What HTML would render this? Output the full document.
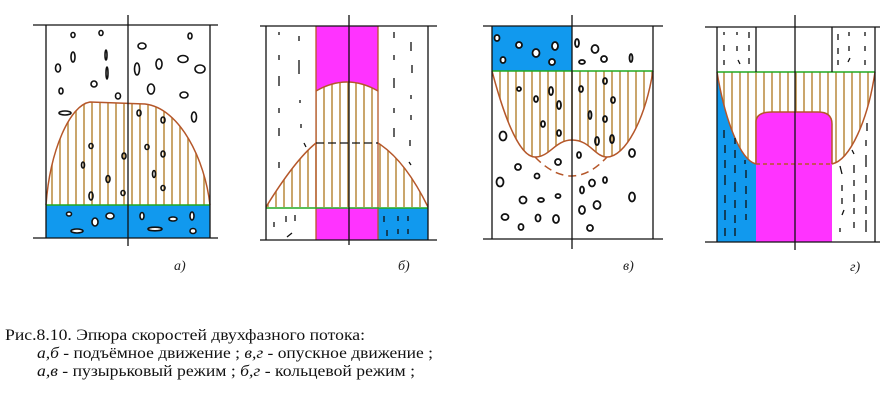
<!DOCTYPE html>
<html><head><meta charset="utf-8"><style>
html,body{margin:0;padding:0;background:#fff;}
svg{display:block;}
.cap{font-family:"Liberation Serif",serif;font-size:16px;fill:#111;}
.lab{font-family:"Liberation Serif",serif;font-size:14px;font-style:italic;fill:#222;}
</style></head><body>
<svg width="886" height="408" viewBox="0 0 886 408" xmlns="http://www.w3.org/2000/svg">
<defs>
<pattern id="h" width="8" height="10" patternUnits="userSpaceOnUse">
<line x1="4" y1="0" x2="4" y2="10" stroke="#b8893a" stroke-width="1.5"/>
</pattern>
</defs>
<g fill="none" stroke="#111" stroke-width="1.3">
<!-- Panel a -->
<rect x="46" y="205" width="164" height="33" fill="#1199ee" stroke="none"/>
<path d="M46,205 C50,150 70,105 90,102 L145,104 C180,108 205,160 210,205 Z" fill="url(#h)" stroke="none"/>
<path d="M46,205 C50,150 70,105 90,102 L145,104 C180,108 205,160 210,205" stroke="#b5572a" stroke-width="1.5"/>
<line x1="46" y1="205" x2="210" y2="205" stroke="#22aa22" stroke-width="1.5"/>
<line x1="33" y1="25" x2="218" y2="25"/><line x1="33" y1="238" x2="218" y2="238"/>
<line x1="46" y1="25" x2="46" y2="238"/><line x1="210" y1="25" x2="210" y2="238"/>
<line x1="128" y1="15" x2="128" y2="246"/>
<g stroke-width="1.6">
<ellipse cx="73" cy="35" rx="2" ry="2.5"/><ellipse cx="101" cy="33" rx="2" ry="2.5"/><ellipse cx="73" cy="57" rx="2" ry="5"/><ellipse cx="106" cy="55" rx="1" ry="5"/>
<ellipse cx="58" cy="68" rx="2.5" ry="4"/><ellipse cx="107" cy="73" rx="1" ry="6"/><ellipse cx="94" cy="84" rx="3" ry="3"/><ellipse cx="61" cy="91" rx="2" ry="3"/>
<ellipse cx="118" cy="96" rx="2.5" ry="3"/><ellipse cx="65" cy="113" rx="6" ry="2"/><ellipse cx="190" cy="36" rx="2" ry="3"/><ellipse cx="142" cy="46" rx="4" ry="3"/>
<ellipse cx="183" cy="59" rx="5" ry="3.5"/><ellipse cx="200" cy="69" rx="5" ry="4"/><ellipse cx="159" cy="64" rx="3" ry="5"/><ellipse cx="137" cy="69" rx="2.5" ry="6"/>
<ellipse cx="151" cy="89" rx="3.5" ry="5"/><ellipse cx="184" cy="95" rx="4" ry="3"/><ellipse cx="194" cy="117" rx="2.5" ry="5"/><ellipse cx="139" cy="113" rx="2" ry="3"/>
<ellipse cx="163" cy="120" rx="2" ry="3"/><ellipse cx="91" cy="146" rx="2" ry="2.5"/><ellipse cx="83" cy="165" rx="1.5" ry="3"/><ellipse cx="124" cy="156" rx="2" ry="3"/>
<ellipse cx="147" cy="147" rx="2" ry="2.5"/><ellipse cx="163" cy="154" rx="2" ry="3"/><ellipse cx="108" cy="179" rx="2" ry="3.5"/><ellipse cx="154" cy="174" rx="1.5" ry="3.5"/>
<ellipse cx="91" cy="196" rx="2" ry="4"/><ellipse cx="123" cy="193" rx="2" ry="2.5"/><ellipse cx="163" cy="188" rx="2" ry="2.5"/>
<ellipse cx="69" cy="214" rx="2.5" ry="2" fill="#fff"/><ellipse cx="77" cy="231" rx="6" ry="2" fill="#fff"/><ellipse cx="95" cy="222" rx="3" ry="4" fill="#fff"/><ellipse cx="110" cy="216" rx="4" ry="3" fill="#fff"/>
<ellipse cx="142" cy="216" rx="2" ry="3.5" fill="#fff"/><ellipse cx="155" cy="229" rx="7" ry="1.8" fill="#fff"/><ellipse cx="173" cy="219" rx="4" ry="2" fill="#fff"/><ellipse cx="192" cy="216" rx="2" ry="4" fill="#fff"/><ellipse cx="193" cy="231" rx="3" ry="2.5" fill="#fff"/>
</g>
<!-- Panel b -->
<path d="M316,26 L378,26 L378,91 Q347,73 316,91 Z" fill="#ff33ff" stroke="none"/>
<rect x="316" y="208" width="62" height="32" fill="#ff33ff" stroke="none"/>
<rect x="378" y="208" width="50" height="32" fill="#1199ee" stroke="none"/>
<path d="M266,207 Q295,160 316,143 L316,91 Q347,73 378,91 L378,143 Q405,160 428,207 Z" fill="url(#h)" stroke="none"/>
<path d="M266,207 Q295,160 316,143 M378,143 Q405,160 428,207 M316,91 Q347,73 378,91" stroke="#b5572a" stroke-width="1.5"/>
<line x1="316" y1="26" x2="316" y2="240" stroke="#b5572a"/><line x1="378" y1="26" x2="378" y2="240" stroke="#b5572a"/>
<line x1="316" y1="143" x2="378" y2="143" stroke-dasharray="8,4"/>
<line x1="266" y1="208" x2="428" y2="208" stroke="#22aa22" stroke-width="1.5"/>
<line x1="260" y1="26" x2="437" y2="26"/><line x1="260" y1="240" x2="437" y2="240"/>
<line x1="266" y1="26" x2="266" y2="240"/><line x1="428" y1="26" x2="428" y2="240"/>
<line x1="349" y1="15" x2="349" y2="245"/>
<g stroke-width="1.3">
<path d="M279,32v3 M279,55v5 M279,76v10 M279,108v5 M279,128v8 M279,162v6 M299,36v5 M299,60v14 M300,100v3 M301,124v4 M304,143l2,4 M394,32v6 M394,55v5 M394,78v10 M394,108v5 M394,128v9 M411,42v9 M412,65v8 M411,95v4 M411,115v5 M410,140v6 M409,162l2,3 M274,222v5 M286,216v6 M295,215v6 M292,233l-5,4 M384,216v6 M387,230v6 M398,216v5 M398,229v5 M408,216v5 M408,229v5"/>
</g>
<!-- Panel c -->
<rect x="492" y="26" width="80" height="45" fill="#1199ee" stroke="none"/>
<path d="M492,71 C505,120 520,157 535,157 C550,157 555,140 572,140 C590,140 595,157 607,157 C625,157 645,120 653,71 Z" fill="url(#h)" stroke="none"/>
<path d="M492,71 C505,120 520,157 535,157 C550,157 555,140 572,140 C590,140 595,157 607,157 C625,157 645,120 653,71" stroke="#b5572a" stroke-width="1.5"/>
<path d="M535,157 Q572,195 607,157" stroke="#b5572a" stroke-width="1.5" stroke-dasharray="8,5"/>
<line x1="492" y1="71" x2="653" y2="71" stroke="#22aa22" stroke-width="1.5"/>
<line x1="483" y1="26" x2="663" y2="26"/><line x1="483" y1="239" x2="663" y2="239"/>
<line x1="492" y1="26" x2="492" y2="239"/><line x1="653" y1="26" x2="653" y2="239"/>
<line x1="572" y1="15" x2="572" y2="249"/>
<g stroke-width="1.8">
<ellipse cx="497" cy="38" rx="2.5" ry="3" fill="#fff"/><ellipse cx="519" cy="45" rx="3" ry="3" fill="#fff"/><ellipse cx="536" cy="53" rx="3.5" ry="4" fill="#fff"/><ellipse cx="555" cy="46" rx="3" ry="4" fill="#fff"/><ellipse cx="503" cy="60" rx="2.5" ry="3" fill="#fff"/><ellipse cx="552" cy="62" rx="3" ry="3" fill="#fff"/>
<ellipse cx="577" cy="43" rx="2" ry="4"/><ellipse cx="595" cy="49" rx="3.5" ry="4"/><ellipse cx="604" cy="59" rx="3" ry="3"/><ellipse cx="582" cy="62" rx="3" ry="2"/><ellipse cx="631" cy="58" rx="1.5" ry="4"/>
<ellipse cx="519" cy="89" rx="2" ry="2"/><ellipse cx="551" cy="91" rx="2" ry="4"/><ellipse cx="536" cy="99" rx="2" ry="3"/><ellipse cx="559" cy="105" rx="2" ry="4"/><ellipse cx="543" cy="124" rx="2" ry="3"/><ellipse cx="559" cy="133" rx="2" ry="3"/>
<ellipse cx="581" cy="89" rx="2" ry="3"/><ellipse cx="605" cy="81" rx="2" ry="3"/><ellipse cx="613" cy="100" rx="2" ry="3"/><ellipse cx="590" cy="115" rx="1.5" ry="4"/><ellipse cx="605" cy="119" rx="2" ry="3"/><ellipse cx="597" cy="141" rx="2" ry="4"/><ellipse cx="612" cy="139" rx="2" ry="4"/>
<ellipse cx="503" cy="136" rx="3.5" ry="4.5"/><ellipse cx="632" cy="153" rx="3" ry="4"/><ellipse cx="579" cy="155" rx="2" ry="3"/><ellipse cx="558" cy="162" rx="3" ry="3"/><ellipse cx="518" cy="167" rx="3" ry="3"/><ellipse cx="537" cy="176" rx="2.5" ry="2.5"/>
<ellipse cx="500" cy="182" rx="3.5" ry="4.5"/><ellipse cx="592" cy="183" rx="3" ry="3.5"/><ellipse cx="605" cy="180" rx="2" ry="3"/><ellipse cx="582" cy="190" rx="2" ry="3.5"/><ellipse cx="523" cy="200" rx="3.5" ry="3.5"/><ellipse cx="541" cy="200" rx="3" ry="2"/><ellipse cx="558" cy="196" rx="2.5" ry="2"/>
<ellipse cx="632" cy="197" rx="3" ry="4.5"/><ellipse cx="597" cy="205" rx="3.5" ry="4"/><ellipse cx="582" cy="210" rx="3" ry="4"/><ellipse cx="505" cy="217" rx="3.5" ry="3"/><ellipse cx="538" cy="218" rx="2.5" ry="3.5"/><ellipse cx="556" cy="219" rx="3" ry="4"/><ellipse cx="521" cy="227" rx="2.5" ry="3"/><ellipse cx="590" cy="228" rx="3" ry="3"/>
</g>
<!-- Panel d -->
<path d="M717,72 C725,120 740,160 756,164 L756,242 L717,242 Z" fill="#1199ee" stroke="none"/>
<path d="M756,242 L756,122 Q756,112 772,112 L818,112 Q832,112 832,124 L832,242 Z" fill="#ff33ff" stroke="none"/>
<path d="M717,72 C725,120 740,160 756,164 L756,122 Q756,112 772,112 L818,112 Q832,112 832,124 L832,164 C850,160 868,120 875,72 Z" fill="url(#h)" stroke="none"/>
<path d="M717,72 C725,120 740,160 756,164 M832,164 C850,160 868,120 875,72 M756,164 L756,122 Q756,112 772,112 L818,112 Q832,112 832,124 L832,164" stroke="#b5572a" stroke-width="1.5"/>
<line x1="756" y1="164" x2="832" y2="164" stroke="#b5572a" stroke-width="1.5" stroke-dasharray="4,3"/>
<line x1="717" y1="72" x2="875" y2="72" stroke="#22aa22" stroke-width="1.5"/>
<line x1="705" y1="27" x2="880" y2="27"/><line x1="705" y1="242" x2="880" y2="242"/>
<line x1="717" y1="27" x2="717" y2="242"/><line x1="875" y1="27" x2="875" y2="242"/>
<line x1="756" y1="27" x2="756" y2="72"/><line x1="832" y1="27" x2="832" y2="72"/>
<line x1="795" y1="15" x2="795" y2="250"/>
<g stroke-width="1.3">
<path d="M724,32v3 M724,45v6 M724,60v5 M737,32v3 M737,46v5 M738,60l2,4 M749,32v6 M749,45v6 M749,58v6 M838,34v6 M838,48v6 M838,60v5 M849,32v4 M849,46v5 M848,62l2,-4 M865,32v4 M865,46v5 M865,60v5
M724,130v8 M725,145v8 M725,160v8 M725,175v10 M725,195v8 M725,210v10 M725,228v8 M735,138v6 M735,150v8 M735,165v8 M735,182v10 M735,200v8 M735,215v8 M735,228v8 M745,160v4 M746,170v8 M746,186v8 M746,200v8 M746,214v6
M867,123v8 M866,140v6 M866,155v12 M866,175v8 M866,190v10 M866,206v8 M866,220v12 M852,150l2,4 M854,165v8 M854,180v6 M854,194v8 M854,208v6 M854,222v6 M840,166l2,8 M842,185v6 M842,198v6 M842,215l2,-5 M840,228v4"/>
</g>
</g>
<text class="lab" x="174" y="270">а)</text>
<text class="lab" x="398" y="270">б)</text>
<text class="lab" x="623" y="270">в)</text>
<text class="lab" x="850" y="271">г)</text>
<text class="cap" x="5" y="340" textLength="360" lengthAdjust="spacingAndGlyphs">Рис.8.10. Эпюра скоростей двухфазного потока:</text>
<text class="cap" x="37" y="358" textLength="396" lengthAdjust="spacingAndGlyphs"><tspan font-style="italic">а,б</tspan> - подъёмное движение ;  <tspan font-style="italic">в,г</tspan> - опускное движение ;</text>
<text class="cap" x="37" y="376" textLength="378" lengthAdjust="spacingAndGlyphs"><tspan font-style="italic">а,в</tspan> - пузырьковый режим ;  <tspan font-style="italic">б,г</tspan> - кольцевой режим ;</text>
</svg>
</body></html>
